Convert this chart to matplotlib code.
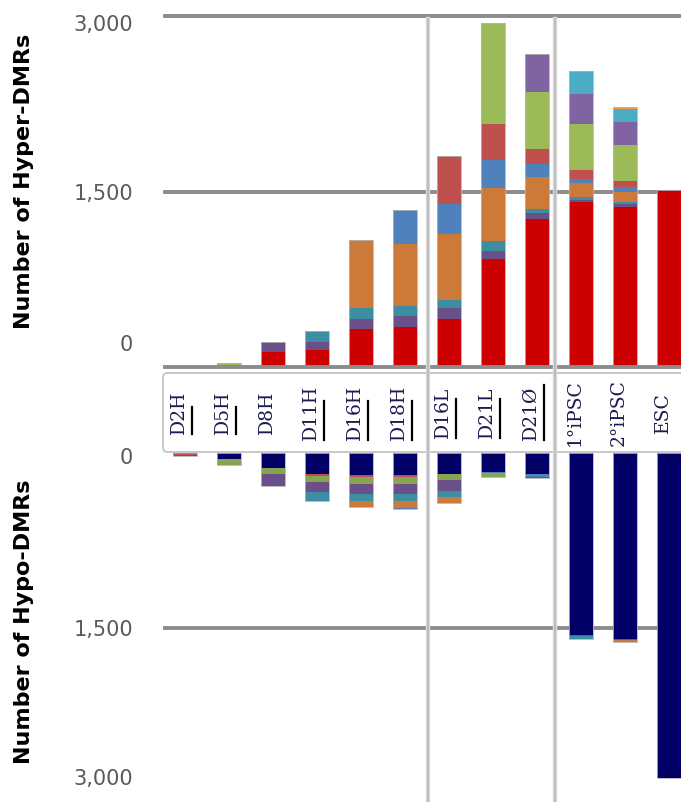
import numpy as np
import matplotlib
matplotlib.use("Agg")
import matplotlib.pyplot as plt
from matplotlib.patches import FancyBboxPatch
from matplotlib.lines import Line2D
from matplotlib.transforms import ScaledTranslation

# ---- data -------------------------------------------------------------
samples = ["D2H", "D5H", "D8H", "D11H", "D16H", "D18H",
           "D16L", "D21L", "D21\u00d8", "1\u00b0iPSC", "2\u00b0iPSC", "ESC"]
underlined = ["D2", "D5", "", "D11", "D16", "D18", "D16", "D21", "D21\u00d8", "", "", ""]

# hyper-DMR layers, stacked bottom -> top
hyper_red       = [8, 20, 125, 148, 326, 343, 412, 922, 1264, 1409, 1371, 1510]
hyper_plum      = [0, 0, 89, 69, 88, 91, 91, 68, 51, 20, 23, 0]
hyper_teal      = [0, 0, 0, 88, 94, 89, 71, 91, 37, 23, 20, 0]
hyper_orange    = [0, 0, 0, 0, 580, 526, 561, 453, 271, 117, 85, 0]
hyper_blue      = [0, 0, 0, 0, 0, 294, 256, 234, 111, 37, 37, 0]
hyper_brick     = [0, 0, 0, 0, 0, 0, 415, 307, 125, 74, 51, 0]
hyper_green     = [0, 15, 0, 0, 0, 0, 0, 868, 490, 396, 307, 0]
hyper_violet    = [0, 0, 0, 0, 0, 0, 0, 0, 327, 256, 202, 0]
hyper_cyan      = [0, 0, 0, 0, 0, 0, 0, 0, 0, 199, 106, 0]
hyper_apricot   = [0, 0, 0, 0, 0, 0, 0, 0, 0, 0, 22, 0]

# hypo-DMR layers, stacked from the zero line downwards
hypo_navy       = [10, 54, 126, 177, 191, 191, 177, 163, 183, 1568, 1599, 2790]
hypo_brick      = [6, 0, 0, 17, 17, 17, 0, 0, 0, 0, 0, 0]
hypo_blue       = [0, 0, 0, 0, 0, 0, 0, 12, 23, 0, 0, 0]
hypo_green      = [0, 51, 51, 57, 60, 60, 57, 28, 0, 0, 0, 0]
hypo_plum       = [14, 0, 108, 88, 88, 88, 91, 0, 9, 9, 9, 0]
hypo_teal       = [0, 0, 0, 74, 57, 57, 57, 0, 0, 20, 0, 0]
hypo_orange     = [0, 0, 0, 0, 51, 57, 50, 0, 0, 0, 20, 0]
hypo_tip        = [0, 0, 0, 0, 0, 14, 0, 0, 0, 0, 0, 0]

hyper_layers = [
    (hyper_red, "#cc0000"), (hyper_plum, "#6b4f89"), (hyper_teal, "#3d8da3"),
    (hyper_orange, "#cc7a3a"), (hyper_blue, "#4f81bd"), (hyper_brick, "#c0504d"),
    (hyper_green, "#9bbb59"), (hyper_violet, "#8064a2"), (hyper_cyan, "#4bacc6"),
    (hyper_apricot, "#f79646"),
]
hypo_layers = [
    (hypo_navy, "#000066"), (hypo_brick, "#c0504d"), (hypo_blue, "#4f81bd"),
    (hypo_green, "#86a452"), (hypo_plum, "#6b4f89"), (hypo_teal, "#3d8da3"),
    (hypo_orange, "#cc7a3a"), (hypo_tip, "#4f81bd"),
]

# ---- figure -------------------------------------------------------------
W, H = 681, 802
fig = plt.figure(figsize=(W / 100, H / 100), dpi=100)
fig.patch.set_facecolor("white")

def fx(px):
    return px / W

def fy(py):
    return 1 - py / H

left, right = 165, 681
ax_top = fig.add_axes([fx(left), fy(367), fx(right - left), fy(16) - fy(367)])
ax_bot = fig.add_axes([fx(left), 0.0, fx(right - left), fy(453)])
ax_lab = fig.add_axes([fx(left), fy(452), fx(right - left), fy(373) - fy(452)])

x = np.arange(len(samples))
bar_w = 0.55
xlim = (-0.45, 11.27)
grid_c = "#8c8c8c"


def stack(ax, layers):
    base = np.zeros(len(samples))
    for vals, col in layers:
        v = np.asarray(vals, dtype=float)
        ax.bar(x, v, bar_w, bottom=base, color=col, linewidth=0, zorder=3)
        base += v
    ax.bar(x, base, bar_w, facecolor="none", edgecolor="#b3b3b3",
           linewidth=0.6, zorder=4)
    return base


stack(ax_top, hyper_layers)
stack(ax_bot, hypo_layers)

for ax in (ax_top, ax_bot):
    ax.set_xlim(*xlim)
    ax.set_ylim(0, 3000)
    for s in ax.spines.values():
        s.set_visible(False)
    ax.set_xticks([])
    ax.set_yticks([0, 1500, 3000])
    ax.set_yticklabels(["0", "1,500", "3,000"])
    ax.tick_params(axis="y", length=0, pad=23, labelsize=15,
                   labelcolor="#595959")
    ax.set_facecolor("none")
ax_bot.invert_yaxis()

for yv in (3000, 1500):
    ax_top.axhline(yv, color=grid_c, lw=2.8, zorder=2, clip_on=False)
ax_top.axhline(0, color=grid_c, lw=2.8, zorder=5, clip_on=False)
ax_bot.axhline(1500, color=grid_c, lw=2.8, zorder=2, clip_on=False)

# nudge the end labels inwards
shifts_top = {0: 24, 1: 0, 2: -7}
shifts_bot = {0: -3, 1: 0, 2: 25}
for ax, sh in ((ax_top, shifts_top), (ax_bot, shifts_bot)):
    for i, lab in enumerate(ax.get_yticklabels()):
        lab.set_transform(lab.get_transform() +
                          ScaledTranslation(0, sh[i] / 100, fig.dpi_scale_trans))

fig.text(fx(24), fy(181), "Number of Hyper-DMRs", rotation=90,
         ha="center", va="center", fontsize=16, fontweight="bold", color="black")
fig.text(fx(24), fy(622), "Number of Hypo-DMRs", rotation=90,
         ha="center", va="center", fontsize=16, fontweight="bold", color="black")

# sample-name strip
ax_lab.set_xlim(*xlim)
ax_lab.set_ylim(0, 1)
ax_lab.axis("off")
fig.add_artist(FancyBboxPatch((fx(163), fy(452)), fx(W + 10 - 163), fy(373) - fy(452),
                              boxstyle="round,pad=0,rounding_size=0.006",
                              transform=fig.transFigure, facecolor="white",
                              edgecolor="#c8c8c8", linewidth=1.4, zorder=1))
ax_lab.set_zorder(3)

lab_font = dict(family="DejaVu Serif", fontsize=13.5, color="#1b1b50")
texts = []
for i, name in enumerate(samples):
    t = ax_lab.text(i - 0.14, 0.5, name, rotation=90, ha="center",
                    va="center", **lab_font)
    texts.append(t)

fig.canvas.draw()
renderer = fig.canvas.get_renderer()
for t, pre in zip(texts, underlined):
    if not pre:
        continue
    bb = t.get_window_extent(renderer)
    probe = fig.text(0, 0, pre, **lab_font)
    plen = probe.get_window_extent(renderer).width
    probe.remove()
    xline = bb.x1 + 4
    fig.add_artist(Line2D([xline / W, xline / W], [bb.y0 / H, (bb.y0 + plen) / H],
                          transform=fig.transFigure, color="black", lw=1.6,
                          zorder=6))

# group separators
for xs in (427.5, 554.5):
    fig.add_artist(Line2D([fx(xs), fx(xs)], [fy(19), 0], transform=fig.transFigure,
                          color="#dadada", lw=3.2, zorder=5))
    fig.add_artist(Line2D([fx(xs), fx(xs)], [fy(19), 0], transform=fig.transFigure,
                          color="#bdbdbd", lw=1.4, zorder=5))

fig.savefig("out.png", dpi=100, facecolor="white")
